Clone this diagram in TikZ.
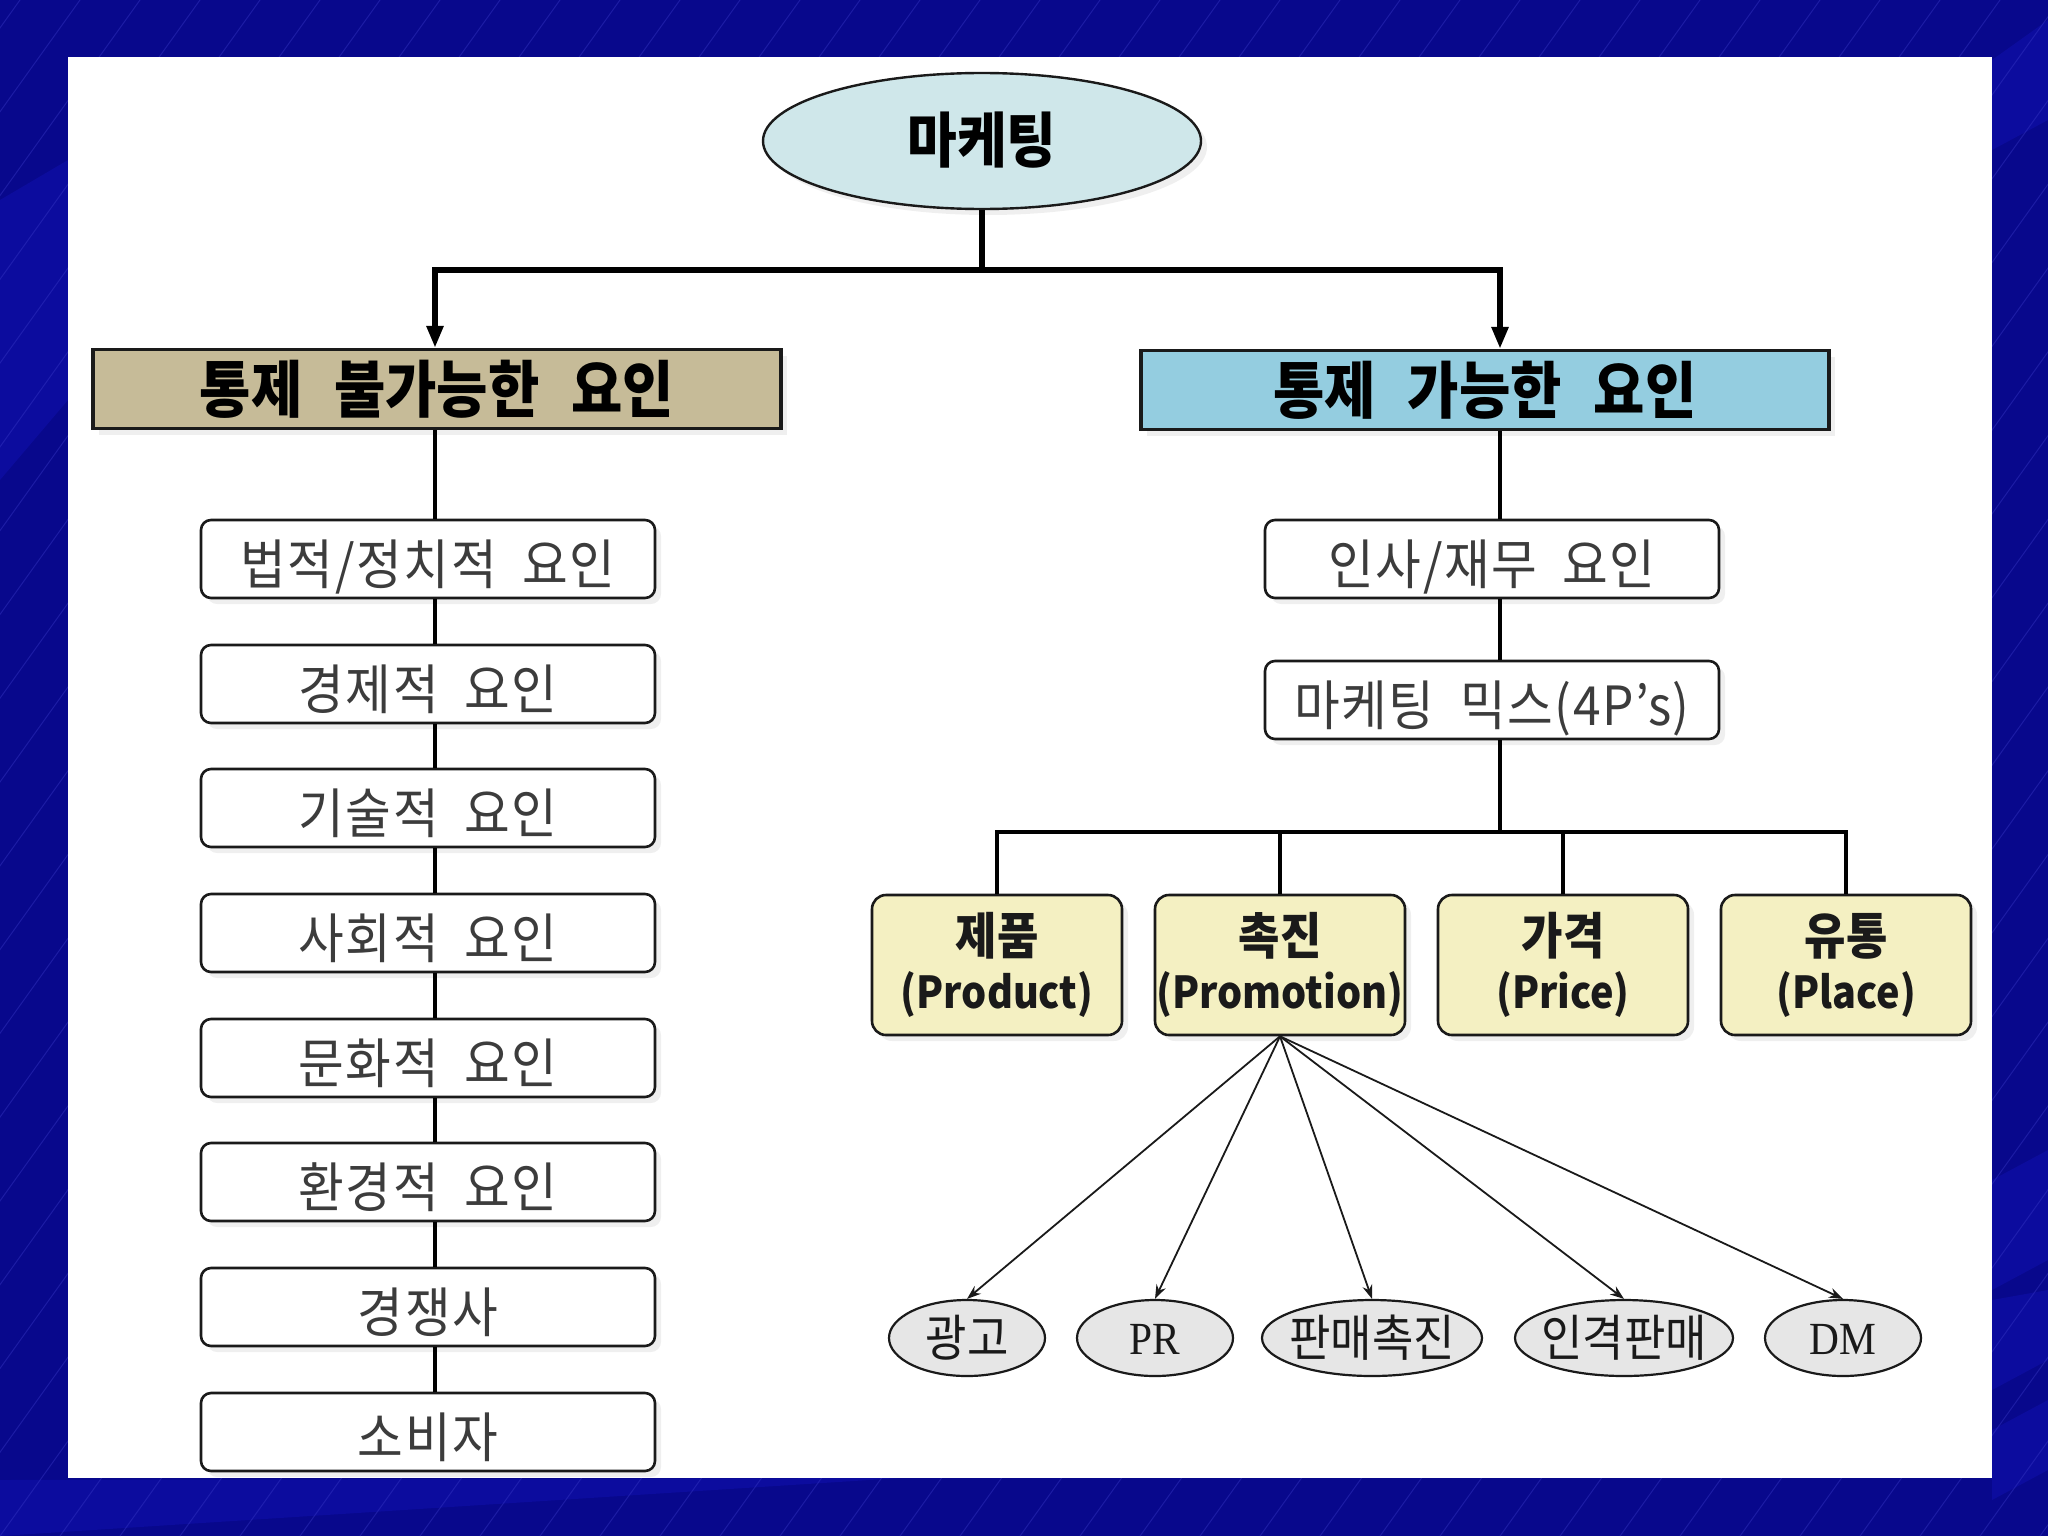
\documentclass[tikz,border=0pt]{standalone}
\usepackage{fontspec}
\newfontfamily\kr{Noto Sans CJK KR}[FakeStretch=0.92,WordSpace=2,LetterSpace=3]
\newfontfamily\krp{Noto Sans CJK KR}[FakeStretch=0.9]
\newfontfamily\krh{Noto Sans CJK KR}[FakeStretch=0.9,WordSpace=2.5]
\newfontfamily\sr{Liberation Serif}[FakeStretch=0.9]
\usetikzlibrary{shapes.geometric,arrows.meta,shadows}
\newcommand{\ctext}[1]{\makebox[0pt]{\raisebox{-0.36em}[0pt][0pt]{#1}}}
\definecolor{bgblue}{HTML}{08088C}
\definecolor{bandblue}{HTML}{1212B4}
\definecolor{streak}{HTML}{3A3AC8}
\definecolor{topfill}{HTML}{CFE7EA}
\definecolor{tanfill}{HTML}{C6BB98}
\definecolor{bluefill}{HTML}{94CDE0}
\definecolor{yelfill}{HTML}{F4F0C2}
\definecolor{grayfill}{HTML}{E6E6E6}
\definecolor{ink}{HTML}{1A1A1A}
\tikzset{
  shadowed/.style={drop shadow={opacity=0.12,shadow xshift=3pt,shadow yshift=-3pt}},
  topell/.style={ellipse,draw=ink,line width=1.2pt,fill=topfill,minimum width=219pt,minimum height=68pt,inner sep=0pt,shadowed,font=\krh\bfseries\fontsize{30}{33}\selectfont},
  header/.style={rectangle,draw=ink,line width=1.6pt,minimum width=344pt,minimum height=39.5pt,inner sep=0pt,shadowed,font=\krh\bfseries\fontsize{31}{34}\selectfont},
  itembox/.style={rectangle,rounded corners=5pt,draw=ink,line width=1.3pt,fill=white,minimum width=227pt,minimum height=39pt,inner sep=0pt,text height=27pt,text depth=1.4pt,shadowed,text=ink!85,font=\kr\fontsize{27}{30}\selectfont},
  pbox/.style={rectangle,rounded corners=7pt,draw=ink,line width=1.3pt,fill=yelfill,minimum width=125pt,minimum height=70pt,inner sep=0pt,shadowed,align=center,text=ink,font=\krp\bfseries\fontsize{22}{27}\selectfont},
  subell/.style={ellipse,draw=ink,line width=1.1pt,fill=grayfill,minimum height=38pt,inner sep=0pt,text=ink,font=\krp\fontsize{25}{28}\selectfont},
  bigline/.style={line width=3pt,draw=black},
  colline/.style={line width=1.8pt,draw=black},
  bigarrow/.style={bigline,-{Triangle[length=11pt,width=8pt]}},
  thinarrow/.style={line width=0.9pt,draw=ink,-{Stealth[length=7pt,width=5pt]}},
  streakline/.style={draw=streak,line width=0.5pt,opacity=0.4},
  band/.style={fill=bandblue,opacity=0.45}
}
\begin{document}
\begin{tikzpicture}[x=0.5pt,y=-0.5pt]
\useasboundingbox (0,0) rectangle (2048,1536);
% background
\fill[bgblue] (0,0) rectangle (2048,1536);
\begin{scope}
\clip (0,0) rectangle (2048,1536);
\fill[band] (1992,1180) -- (2048,1150) -- (2048,1260) -- (1992,1290) -- cycle;
\fill[band] (1992,1300) -- (2048,1290) -- (2048,1360) -- (1992,1390) -- cycle;
\fill[band] (1992,1430) -- (2048,1400) -- (2048,1470) -- (1992,1500) -- cycle;
\fill[band] (0,1480) -- (900,1478) -- (0,1536) -- cycle;
\fill[band] (1992,60) -- (2048,20) -- (2048,120) -- (1992,150) -- cycle;
\fill[band] (0,200) -- (68,160) -- (68,400) -- (0,480) -- cycle;
\foreach \i in {-1200,-1140,...,2100} \draw[streakline] (\i,1536) -- ++(1100,-1536);
\end{scope}
\fill[white] (68,57) rectangle (1992,1478);

% top ellipse
\node[topell] (mk) at (982,141) {\ctext{마케팅}};
\coordinate (j) at (982,270);
\coordinate (lx) at (435,0);
\coordinate (rx) at (1500,0);

% headers
\node[header,fill=tanfill] (lh) at (437,389) {통제 불가능한 요인};
\node[header,fill=bluefill] (rh) at (1485,390) {통제 가능한 요인};

% left column
\node[itembox] (b1) at (428,559) {법적/정치적 요인};
\node[itembox] (b2) at (428,684) {경제적 요인};
\node[itembox] (b3) at (428,808) {기술적 요인};
\node[itembox] (b4) at (428,933) {사회적 요인};
\node[itembox] (b5) at (428,1058) {문화적 요인};
\node[itembox] (b6) at (428,1182) {환경적 요인};
\node[itembox] (b7) at (428,1307) {경쟁사};
\node[itembox] (b8) at (428,1432) {소비자};

% right column
\node[itembox] (ri) at (1492,559) {인사/재무 요인};
\node[itembox] (mm) at (1492,700) {마케팅 믹스(4P’s)};
\coordinate (bus) at (1500,832);

\node[pbox] (p1) at (997,965) {{\fontsize{25}{28}\selectfont 제품}\\(Product)};
\node[pbox] (p2) at (1280,965) {{\fontsize{25}{28}\selectfont 촉진}\\(Promotion)};
\node[pbox] (p3) at (1563,965) {{\fontsize{25}{28}\selectfont 가격}\\(Price)};
\node[pbox] (p4) at (1846,965) {{\fontsize{25}{28}\selectfont 유통}\\(Place)};

\node[subell,minimum width=78pt] (e1) at (967,1338) {\ctext{광고}};
\node[subell,minimum width=78pt,font=\sr\fontsize{23}{26}\selectfont] (e2) at (1155,1338) {\ctext{PR}};
\node[subell,minimum width=110pt] (e3) at (1372,1338) {\ctext{판매촉진}};
\node[subell,minimum width=109pt] (e4) at (1624,1338) {\ctext{인격판매}};
\node[subell,minimum width=78pt,font=\sr\fontsize{23}{26}\selectfont] (e5) at (1843,1338) {\ctext{DM}};

% connectors top
\draw[bigline] (mk.south) -- (j);
\draw[bigarrow] (j) -| (lh.north -| lx);
\draw[bigarrow] (j) -| (rh.north -| rx);

% left column connectors
\draw[colline] (lh.south -| lx) -- (b1.north -| lx);
\draw[colline] (b1.south -| lx) -- (b2.north -| lx);
\draw[colline] (b2.south -| lx) -- (b3.north -| lx);
\draw[colline] (b3.south -| lx) -- (b4.north -| lx);
\draw[colline] (b4.south -| lx) -- (b5.north -| lx);
\draw[colline] (b5.south -| lx) -- (b6.north -| lx);
\draw[colline] (b6.south -| lx) -- (b7.north -| lx);
\draw[colline] (b7.south -| lx) -- (b8.north -| lx);

% right column connectors
\draw[colline] (rh.south -| rx) -- (ri.north -| rx);
\draw[colline] (ri.south -| rx) -- (mm.north -| rx);
\draw[colline] (mm.south -| rx) -- (bus);
\draw[colline] (p1.north) |- (bus) -| (p4.north);
\draw[colline] (p2.north) -- (p2.north |- bus);
\draw[colline] (p3.north) -- (p3.north |- bus);

% promotion arrows
\foreach \e in {e1,e2,e3,e4,e5} \draw[thinarrow] (p2.south) -- (\e.north);
\end{tikzpicture}
\end{document}
